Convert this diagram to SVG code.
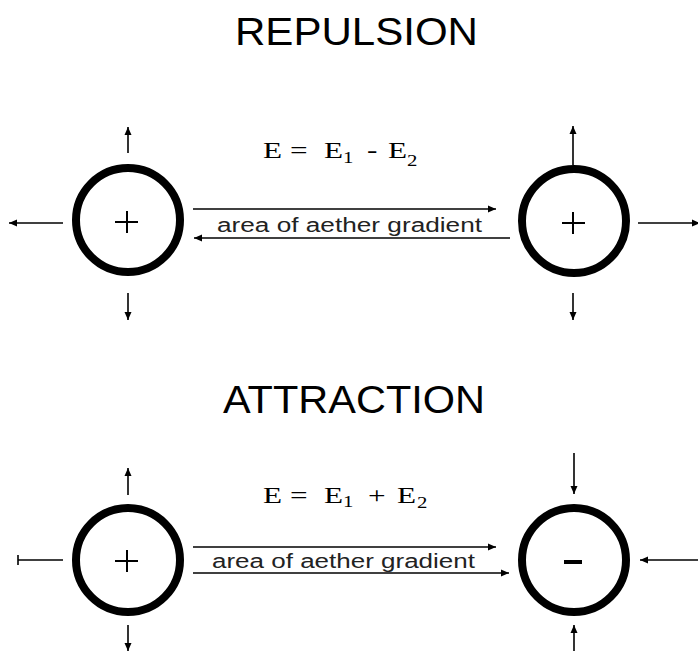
<svg xmlns="http://www.w3.org/2000/svg" width="698" height="651" viewBox="0 0 698 651">
<defs>
<marker id="ah" markerUnits="userSpaceOnUse" markerWidth="9" markerHeight="8" refX="8" refY="4" orient="auto">
<path d="M0,0.5 L8,4 L0,7.5 z" fill="#000"/>
</marker>
</defs>
<style>
.title{font-family:"Liberation Sans",Arial,sans-serif;font-size:38px;fill:#000}
.lbl{font-family:"Liberation Sans",Arial,sans-serif;font-size:20px;fill:#222}
.eq{font-family:"Liberation Serif","Times New Roman",serif;font-size:24px;fill:#000}
.sub{font-size:16px}
.ring{fill:#fff;stroke:#000;stroke-width:8}
.sign{stroke:#000;stroke-width:2;fill:none}
.c{stroke:#000;stroke-width:1.6;fill:none}
.a{stroke:#000;stroke-width:1.6;fill:none;marker-end:url(#ah)}
</style>
<rect width="698" height="651" fill="#fff"/>
<text class="title" x="235" y="45" textLength="243" lengthAdjust="spacingAndGlyphs">REPULSION</text>
<text class="title" x="223" y="413" textLength="262" lengthAdjust="spacingAndGlyphs">ATTRACTION</text>
<g id="eq-repulsion" transform="translate(263,158) scale(1.3,1)">
<text class="eq"><tspan x="0">E</tspan><tspan x="20.8">=</tspan><tspan x="46.9">E</tspan><tspan x="61.5" dy="5" class="sub">1</tspan><tspan x="80" dy="-5">-</tspan><tspan x="96.2">E</tspan><tspan x="110.8" dy="8" class="sub">2</tspan></text>
</g>
<g id="eq-attraction" transform="translate(263,503) scale(1.3,1)">
<text class="eq"><tspan x="0">E</tspan><tspan x="20.8">=</tspan><tspan x="46.9">E</tspan><tspan x="61.5" dy="4" class="sub">1</tspan><tspan x="80.8" dy="-4">+</tspan><tspan x="103">E</tspan><tspan x="118.5" dy="5" class="sub">2</tspan></text>
</g>
<g id="connectors">
<line class="a" x1="193" y1="209" x2="496" y2="209"/>
<line class="a" x1="510" y1="238" x2="194" y2="238"/>
<line class="a" x1="193" y1="547" x2="496" y2="547"/>
<line class="a" x1="193" y1="573" x2="509" y2="573"/>
<line class="a" x1="128" y1="153" x2="128" y2="127"/>
<line class="a" x1="63" y1="223" x2="9" y2="223"/>
<line class="a" x1="128" y1="293" x2="128" y2="320"/>
<line class="a" x1="573" y1="165" x2="573" y2="126"/>
<line class="a" x1="638" y1="223" x2="700" y2="223"/>
<line class="a" x1="573" y1="293" x2="573" y2="320"/>
<line class="a" x1="128" y1="495" x2="128" y2="468"/>
<line class="c" x1="63" y1="560" x2="18" y2="560"/>
<line class="c" x1="18" y1="555" x2="18" y2="565"/>
<line class="a" x1="128" y1="625" x2="128" y2="651"/>
<line class="a" x1="574" y1="453" x2="574" y2="494"/>
<line class="a" x1="700" y1="560" x2="640" y2="560"/>
<line class="a" x1="574" y1="655" x2="574" y2="625"/>
</g>
<g id="rep-left"><circle class="ring" cx="128" cy="220" r="52"/><path class="sign" d="M115,222 H138 M127,211 V233"/></g>
<g id="rep-right"><circle class="ring" cx="574" cy="221" r="52"/><path class="sign" d="M562,223 H585 M573,212 V234"/></g>
<g id="att-left"><circle class="ring" cx="128" cy="560" r="52"/><path class="sign" d="M115,561 H138 M127,550 V572"/></g>
<g id="att-right"><circle class="ring" cx="574" cy="560" r="52"/><rect x="564" y="560" width="18" height="4" fill="#000"/></g>
<text class="lbl" x="217" y="232" textLength="265" lengthAdjust="spacingAndGlyphs">area of aether gradient</text>
<text class="lbl" x="212" y="568" textLength="263" lengthAdjust="spacingAndGlyphs">area of aether gradient</text>
</svg>
